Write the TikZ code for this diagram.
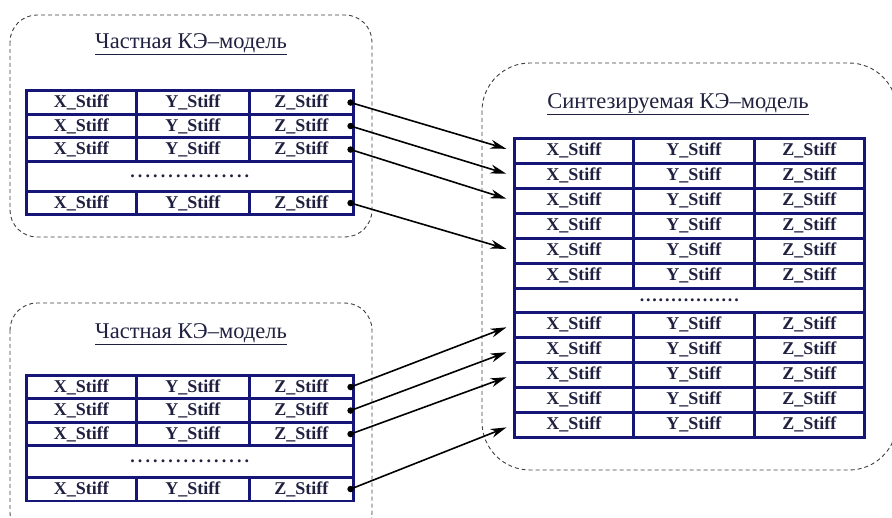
\documentclass[tikz,border=0pt]{standalone}
\usepackage{fontspec}
\setmainfont{Liberation Serif}
\usetikzlibrary{arrows.meta}
\definecolor{navy}{RGB}{22,22,120}
\definecolor{ink}{RGB}{32,32,64}

% one row of a table: name, top, height, x0, x1, x2, x3
\newcommand\stiffrow[7]{
  \node [cell, minimum width=#5-#4, minimum height=#3] (#1x) at (#4, #2) {X\_Stiff};
  \node [cell, minimum width=#6-#5, minimum height=#3] (#1y) at (#5, #2) {Y\_Stiff};
  \node [cell, minimum width=#7-#6, minimum height=#3] (#1z) at (#6, #2) {Z\_Stiff};
}
% the row of dots: name, top, height, x0, x3, length of the dots, step
\newcommand\dotsrow[7]{
  \node [cell, minimum width=#5-#4, minimum height=#3] (#1) at (#4, #2)
    {\makebox[#6pt]{\xleaders\hbox to #7pt{\hss.\hss}\hfill}};
}

\begin{document}
\begin{tikzpicture}[x=1pt, y=-1pt,
    cell/.style={draw=navy, line width=2.6pt, fill=white, inner sep=0pt,
      anchor=north west, text=ink, font=\bfseries\fontsize{18}{20}\selectfont},
    frame/.style={draw=black!75, line width=0.9pt, dash pattern=on 4pt off 3pt},
    title/.style={text=ink, font=\fontsize{22.5}{26}\selectfont},
    dot/.style={circle, fill=black, inner sep=0pt, minimum size=6.5pt},
    link/.style={line width=1.6pt, -{Stealth[length=16pt, width=9pt, inset=5pt]}, shorten >=7pt}]
  \useasboundingbox (0,0) rectangle (892,518);

  % dashed frames
  \draw [frame, rounded corners=27] (10,15) rectangle (372,237);
  \draw [frame, rounded corners=27] (10,303) rectangle (372,540);
  \draw [frame, rounded corners=48] (482,63) rectangle (897,470);

  \node [title] (ta) at (191,44) {\underline{Частная КЭ–модель}};
  \node [title] (tb) at (191,334) {\underline{Частная КЭ–модель}};
  \node [title] (tc) at (678,104) {\underline{Синтезируемая КЭ–модель}};

  % first part model
  \stiffrow{a1}{89.5}{23.5}{25}{135}{248}{352}
  \stiffrow{a2}{113}{23.5}{25}{135}{248}{352}
  \stiffrow{a3}{136.5}{23.5}{25}{135}{248}{352}
  \dotsrow{ad}{160}{30}{25}{352}{122}{7.6}
  \stiffrow{a4}{190}{23.5}{25}{135}{248}{352}

  % second part model
  \stiffrow{b1}{374}{23.5}{25}{135}{248}{352}
  \stiffrow{b2}{397.5}{23.5}{25}{135}{248}{352}
  \stiffrow{b3}{421}{23.5}{25}{135}{248}{352}
  \dotsrow{bd}{444.5}{31.5}{25}{352}{122}{7.6}
  \stiffrow{b4}{476}{23.5}{25}{135}{248}{352}

  % synthesised model
  \foreach \r [evaluate=\r as \top using 137+25*(\r-1)] in {1,...,6}
    {\stiffrow{c\r}{\top}{25}{513}{632}{753}{863}}
  \dotsrow{cd}{287}{24}{513}{863}{101}{6}
  \foreach \r [evaluate=\r as \top using 311+25*(\r-7)] in {7,...,11}
    {\stiffrow{c\r}{\top}{25}{513}{632}{753}{863}}

  % links
  \foreach \s/\t in {a1/c1, a2/c2, a3/c3, a4/c5, b1/c7, b2/c8, b3/c9, b4/c11} {
    \node [dot] (\s p) at ([xshift=-4pt]\s z.east) {};
    \draw [link] (\s p.center) -- (\t x.west);
  }
\end{tikzpicture}
\end{document}
